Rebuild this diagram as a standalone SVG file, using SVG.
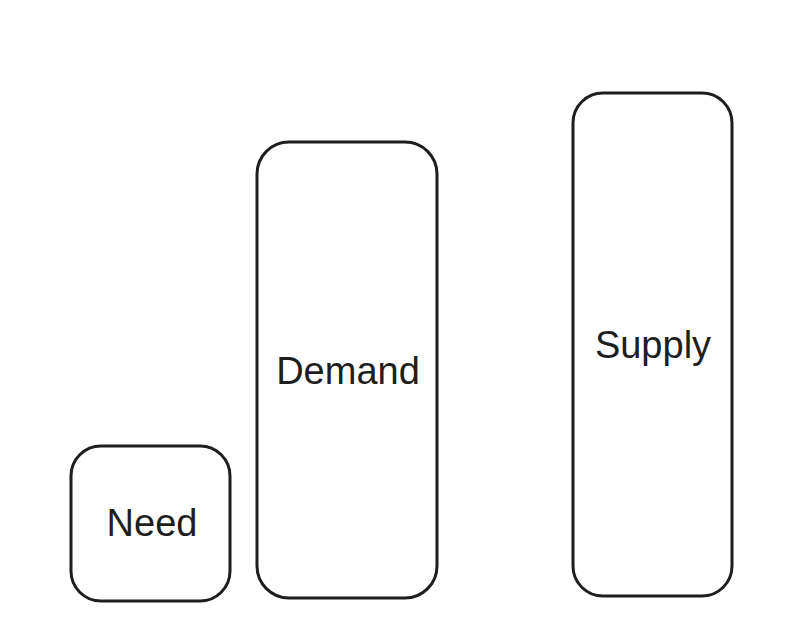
<svg xmlns="http://www.w3.org/2000/svg" width="810" height="630" viewBox="0 0 810 630">
<style>
.box{fill:#ffffff;stroke:#1e1e1e;stroke-width:3;stroke-linejoin:round}
.lbl{font-family:"Liberation Sans","DejaVu Sans",sans-serif;font-size:38px;fill:#1e1e1e;text-anchor:middle}
</style>
<rect width="810" height="630" fill="#ffffff"/>
<g id="need">
<rect class="box" x="71" y="446" width="159" height="155" rx="30" ry="30"/>
<text class="lbl" x="152" y="536">Need</text>
</g>
<g id="demand">
<rect class="box" x="257" y="142" width="180" height="456" rx="32" ry="32"/>
<text class="lbl" x="348" y="384">Demand</text>
</g>
<g id="supply">
<rect class="box" x="573" y="93" width="159" height="503" rx="30" ry="30"/>
<text class="lbl" x="653" y="358">Supply</text>
</g>
<g id="connectors"></g>
</svg>
